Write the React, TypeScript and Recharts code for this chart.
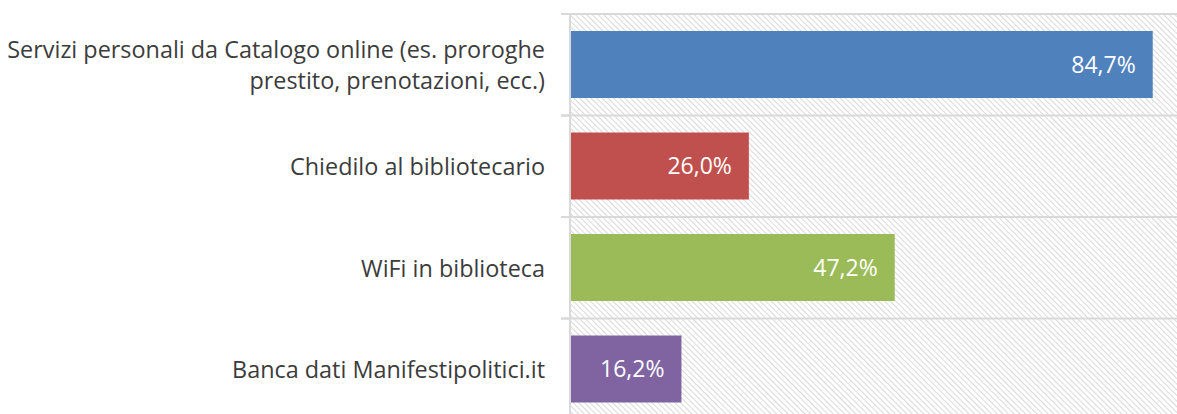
import React from "react";
import { BarChart, Bar, XAxis, YAxis, CartesianGrid, Cell, LabelList } from "recharts";

const categories = [
  "Servizi personali da Catalogo online (es. proroghe\nprestito, prenotazioni, ecc.)",
  "Chiedilo al bibliotecario",
  "WiFi in biblioteca",
  "Banca dati Manifestipolitici.it",
];
const values = [84.7, 26.0, 47.2, 16.2];
const colors = ["#4F81BD", "#C0504D", "#9BBB59", "#8064A2"];

const data = categories.map((name, i) => ({ name, value: values[i] }));

const FONT = "'Open Sans', Lato, sans-serif";

const CategoryTick = (props: any) => {
  const { x, y, payload } = props;
  const lines: string[] = String(payload.value).split("\n");
  const lh = 31;
  const half = payload.offset || 0;
  const startY = y - ((lines.length - 1) * lh) / 2;
  return (
    <g>
      {half > 0 && (
        <>
          <line x1={x - 1} x2={x + 8} y1={y - half} y2={y - half} stroke="#d9d9d9" strokeWidth={2} />
          <line x1={x - 1} x2={x + 8} y1={y + half} y2={y + half} stroke="#d9d9d9" strokeWidth={2} />
        </>
      )}
      <text x={x - 17} y={startY} textAnchor="end" dominantBaseline="central" fill="#3c3c3c" fontSize={23.4} fontFamily={FONT}>
        {lines.map((l, i) => (
          <tspan key={i} x={x - 17} dy={i === 0 ? 0 : lh}>
            {l}
          </tspan>
        ))}
      </text>
    </g>
  );
};

export default function App() {
  return (
    <div style={{ position: "fixed", left: 0, top: 0, width: 1177, height: 414, overflow: "hidden", background: "#fff" }}>
      <BarChart
        width={1270}
        height={430}
        data={data}
        layout="vertical"
        margin={{ top: 14, right: 12, bottom: 10, left: 0 }}
        barSize={67}
      >
        <defs>
          <pattern id="hatch" patternUnits="userSpaceOnUse" width="4" height="4" patternTransform="rotate(-45)">
            <rect width="4" height="4" fill="#ffffff" />
            <line x1="0" y1="0" x2="0" y2="4" stroke="#d9d9d9" strokeWidth="2" />
          </pattern>
        </defs>
        <CartesianGrid
          vertical={false}
          stroke="#d9d9d9"
          strokeWidth={2}
          fill="url(#hatch)"
          fillOpacity={1}
          horizontalCoordinatesGenerator={({ offset }: any) =>
            Array.from({ length: categories.length + 1 }, (_, i) => offset.top + (i * offset.height) / categories.length)
          }
        />
        <XAxis type="number" domain={[0, 100]} hide />
        <YAxis
          type="category"
          dataKey="name"
          width={570}
          axisLine={{ stroke: "#d9d9d9", strokeWidth: 2 }}
          tickLine={false}
          tick={<CategoryTick />}
          interval={0}
        />
        <Bar dataKey="value" isAnimationActive={false}>
          {data.map((_, i) => (
            <Cell key={i} fill={colors[i]} />
          ))}
          <LabelList
            dataKey="value"
            position="insideRight"
            offset={17}
            fill="#ffffff"
            fontSize={23}
            fontFamily={FONT}
            formatter={(v: any) => `${Number(v).toFixed(1).replace(".", ",")}%`}
          />
        </Bar>
      </BarChart>
    </div>
  );
}
